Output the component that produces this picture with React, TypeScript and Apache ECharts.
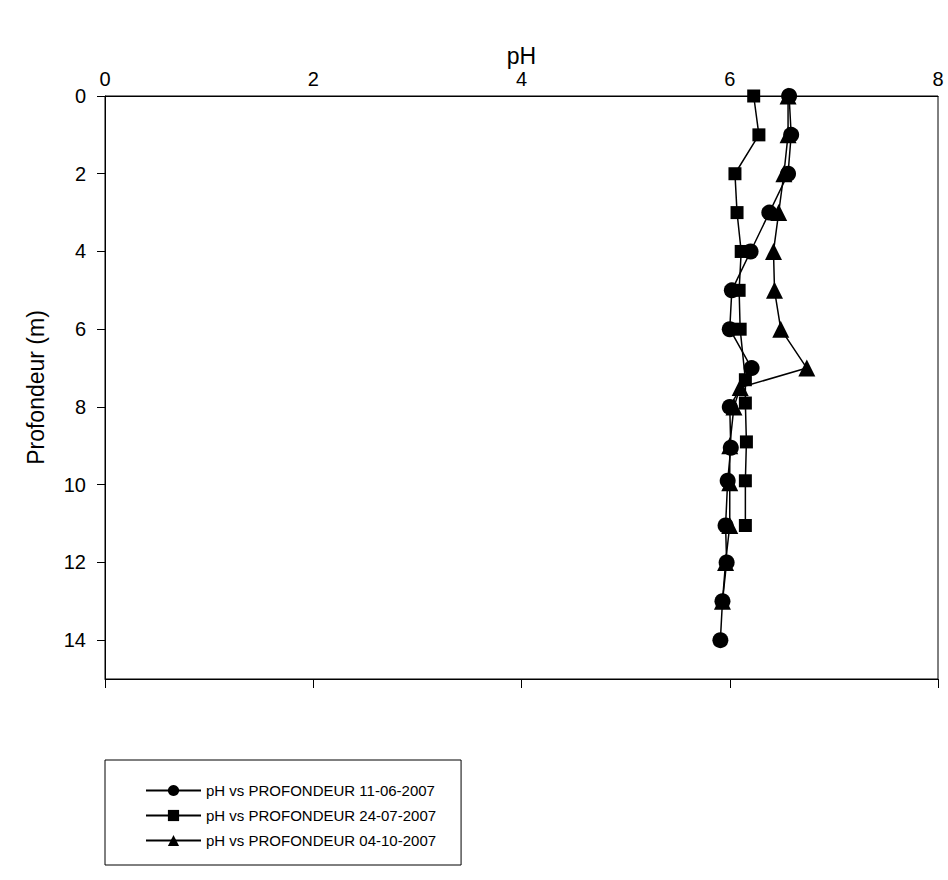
import React, { useEffect, useRef } from "react";
import * as echarts from "echarts";

const depth1 = [0, 1, 2, 3, 4, 5, 6, 7, 8, 9.05, 9.9, 11.05, 12, 13, 14];
const ph1 = [6.57, 6.59, 6.56, 6.38, 6.2, 6.02, 6.0, 6.21, 6.0, 6.01, 5.98, 5.96, 5.97, 5.93, 5.91];

const depth2 = [0, 1, 2, 3, 4, 5, 6, 7.3, 7.9, 8.9, 9.9, 11.05];
const ph2 = [6.23, 6.28, 6.05, 6.07, 6.11, 6.09, 6.1, 6.15, 6.15, 6.16, 6.15, 6.15];

const depth3 = [0, 1, 2, 3, 4, 5, 6, 7, 7.5, 8, 9, 9.95, 11.05, 12, 13];
const ph3 = [6.56, 6.56, 6.52, 6.47, 6.42, 6.43, 6.49, 6.74, 6.1, 6.04, 6.0, 6.0, 6.0, 5.96, 5.93];

const seriesNames = [
  "pH vs PROFONDEUR 11-06-2007",
  "pH vs PROFONDEUR 24-07-2007",
  "pH vs PROFONDEUR 04-10-2007",
];

const FONT = "Liberation Sans";

export default function App() {
  const ref = useRef<HTMLDivElement>(null);
  useEffect(() => {
    const chart = echarts.init(ref.current!, null, { renderer: "svg" });
    const mk = (ph: number[], d: number[]) => ph.map((v, i) => [v, d[i]]);
    const lineStyle = { color: "#000", width: 1.5 };
    const itemStyle = { color: "#000" };
    chart.setOption({
      animation: false,
      backgroundColor: "#fff",
      textStyle: { fontFamily: FONT },
      grid: {
        left: 105,
        right: 10,
        top: 96,
        bottom: 201,
        show: true,
        borderColor: "#000",
        borderWidth: 1,
      },
      legend: {
        orient: "vertical",
        left: 105,
        top: 760,
        data: seriesNames,
        borderColor: "#000",
        borderWidth: 1,
        padding: [23, 25, 17, 40],
        itemWidth: 55,
        itemHeight: 14,
        itemGap: 10,
        textStyle: { fontSize: 15, color: "#000", fontFamily: FONT },
      },
      xAxis: [
        {
          type: "value",
          position: "top",
          min: 0,
          max: 8,
          interval: 2,
          name: "pH",
          nameLocation: "middle",
          nameGap: 29,
          nameMoveOverlap: false,
          nameTextStyle: { fontSize: 23, color: "#000", fontFamily: FONT },
          axisLine: { show: true, lineStyle: { color: "#000", width: 1 } },
          axisTick: { show: false },
          axisLabel: { fontSize: 20, color: "#000", margin: 7, fontFamily: FONT },
          splitLine: { show: false },
        },
        {
          type: "value",
          position: "bottom",
          min: 0,
          max: 8,
          interval: 2,
          axisLine: { show: true, lineStyle: { color: "#000", width: 1 } },
          axisTick: { show: true, inside: false, length: 9, lineStyle: { color: "#000" } },
          axisLabel: { show: false },
          splitLine: { show: false },
        },
      ],
      yAxis: {
        type: "value",
        inverse: true,
        min: 0,
        max: 15,
        interval: 2,
        name: "Profondeur (m)",
        nameLocation: "middle",
        nameGap: 58,
        nameMoveOverlap: false,
        nameRotate: 90,
        nameTextStyle: { fontSize: 23, color: "#000", fontFamily: FONT },
        axisLine: { show: true, lineStyle: { color: "#000", width: 1 } },
        axisTick: { show: true, inside: false, length: 8, lineStyle: { color: "#000" } },
        axisLabel: { fontSize: 20, color: "#000", margin: 19, showMaxLabel: false, fontFamily: FONT },
        splitLine: { show: false },
      },
      series: [
        {
          name: seriesNames[0],
          type: "line",
          xAxisIndex: 0,
          data: mk(ph1, depth1),
          symbol: "circle",
          symbolSize: 16,
          lineStyle,
          itemStyle,
          z: 4,
        },
        {
          name: seriesNames[1],
          type: "line",
          xAxisIndex: 0,
          data: mk(ph2, depth2),
          symbol: "rect",
          symbolSize: 13,
          lineStyle,
          itemStyle,
          z: 3,
        },
        {
          name: seriesNames[2],
          type: "line",
          xAxisIndex: 0,
          data: mk(ph3, depth3),
          symbol: "triangle",
          symbolSize: 17,
          lineStyle,
          itemStyle,
          z: 2,
        },
      ],
    });
    return () => chart.dispose();
  }, []);
  return (
    <div
      ref={ref}
      style={{ position: "fixed", left: 0, top: 0, width: 948, height: 880, background: "#fff" }}
    />
  );
}
